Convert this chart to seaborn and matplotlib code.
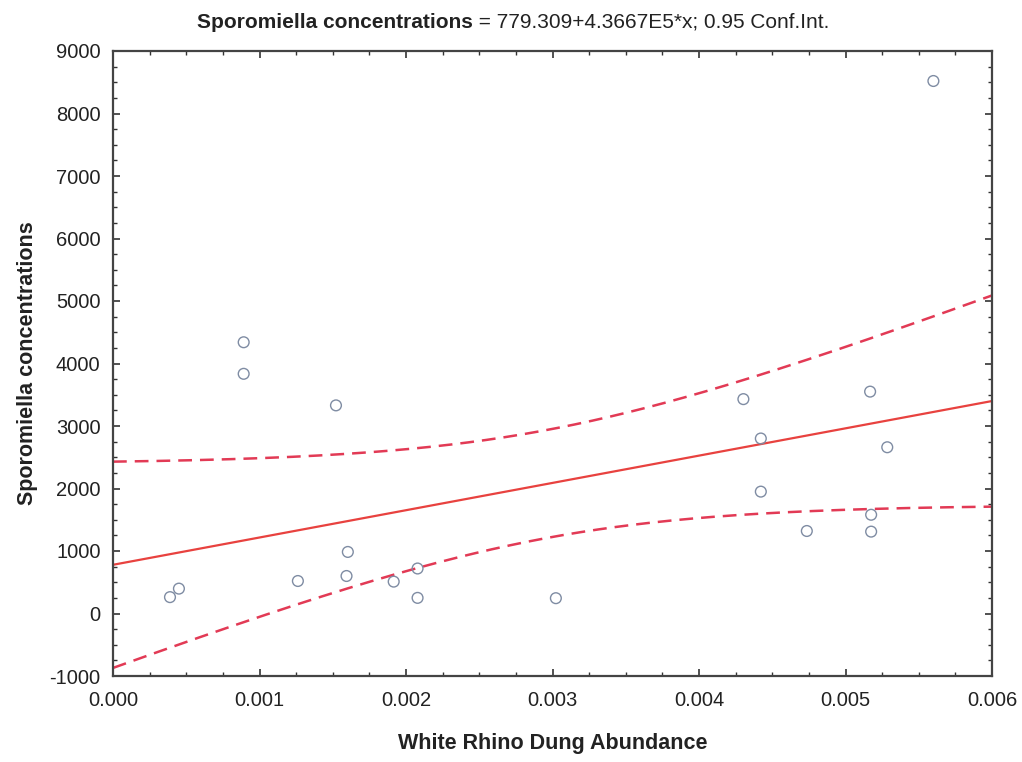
import numpy as np
import pandas as pd
import matplotlib
matplotlib.use("Agg")
import matplotlib.pyplot as plt
import seaborn as sns
from matplotlib.ticker import MultipleLocator, FixedLocator, FixedFormatter

# ---- data ----
dung_abundance = [0.000389, 0.000450, 0.000892, 0.000892, 0.001262, 0.001522,
                  0.001594, 0.001603, 0.001916, 0.002079, 0.002079, 0.003023,
                  0.004303, 0.004422, 0.004422, 0.004736, 0.005168, 0.005175,
                  0.005175, 0.005285, 0.005600]
sporomiella = [262, 398, 4340, 3835, 520, 3330,
               600, 985, 510, 720, 250, 245,
               3430, 2800, 1950, 1320, 3550, 1580,
               1310, 2660, 8520]

intercept = 779.309
slope = 4.3667e5
t_crit = 2.093          # Student t(0.975, df = 19)

x_ticks = [0.000, 0.001, 0.002, 0.003, 0.004, 0.005, 0.006]
x_tick_labels = ["0.000", "0.001", "0.002", "0.003", "0.004", "0.005", "0.006"]
y_ticks = [-1000, 0, 1000, 2000, 3000, 4000, 5000, 6000, 7000, 8000, 9000]
y_tick_labels = ["-1000", "0", "1000", "2000", "3000", "4000", "5000",
                 "6000", "7000", "8000", "9000"]

title_bold = "Sporomiella concentrations"
title_rest = " = 779.309+4.3667E5*x; 0.95 Conf.Int."
x_label = "White Rhino Dung Abundance"
y_label = "Sporomiella concentrations"

# ---- style ----
sns.set_theme(style="ticks")
plt.rcParams['font.family'] = ['Liberation Sans', 'DejaVu Sans']

fig = plt.figure(figsize=(10.22, 7.62), dpi=100)
fig.patch.set_facecolor("white")
ax = fig.add_axes([113 / 1022, 1 - 676 / 762, 879 / 1022, 625 / 762])

df = pd.DataFrame({"x": dung_abundance, "y": sporomiella})

# fitted line and 0.95 confidence band
x_arr = np.asarray(dung_abundance, dtype=float)
y_arr = np.asarray(sporomiella, dtype=float)
n = len(x_arr)
resid = y_arr - (intercept + slope * x_arr)
s = np.sqrt(np.sum(resid ** 2) / (n - 2))
xbar = x_arr.mean()
sxx = np.sum((x_arr - xbar) ** 2)
xs = np.linspace(x_ticks[0], x_ticks[-1], 300)
yhat = intercept + slope * xs
half = t_crit * s * np.sqrt(1.0 / n + (xs - xbar) ** 2 / sxx)

line_df = pd.DataFrame({"x": xs, "fit": yhat, "lo": yhat - half, "hi": yhat + half})

sns.lineplot(data=line_df, x="x", y="fit", ax=ax, color="#e8423f", linewidth=1.6)
sns.lineplot(data=line_df, x="x", y="hi", ax=ax, color="#e23a55", linewidth=1.8,
             dashes=False, linestyle=(0, (5.5, 3.2)))
sns.lineplot(data=line_df, x="x", y="lo", ax=ax, color="#e23a55", linewidth=1.8,
             dashes=False, linestyle=(0, (5.5, 3.2)))

sns.scatterplot(data=df, x="x", y="y", ax=ax, marker="o", s=60,
                facecolors="none", edgecolors="#7f8ca3", linewidth=1.0, zorder=5)

ax.set_xlim(x_ticks[0], x_ticks[-1])
ax.set_ylim(y_ticks[0], y_ticks[-1])
ax.xaxis.set_major_locator(FixedLocator(x_ticks))
ax.xaxis.set_major_formatter(FixedFormatter(x_tick_labels))
ax.yaxis.set_major_locator(FixedLocator(y_ticks))
ax.yaxis.set_major_formatter(FixedFormatter(y_tick_labels))
ax.xaxis.set_minor_locator(MultipleLocator(0.00025))
ax.yaxis.set_minor_locator(MultipleLocator(250))

ax.tick_params(which="both", direction="in", top=True, right=True,
               colors="#333333", labelcolor="#222222")
ax.tick_params(which="major", length=5, width=1.2, labelsize=14.5)
ax.tick_params(axis="x", which="major", pad=11)
ax.tick_params(axis="y", which="major", pad=9)
ax.tick_params(which="minor", length=3, width=1.0)
for sp in ax.spines.values():
    sp.set_color("#444444")
    sp.set_linewidth(1.6)
    sp.set_visible(True)

ax.set_xlabel(x_label, fontsize=15.5, fontweight="bold", color="#222222", labelpad=16)
ax.set_ylabel(y_label, fontsize=15.5, fontweight="bold", color="#222222", labelpad=8)
ax.grid(False)

# two-part title (bold + regular), centred
fig.canvas.draw()
renderer = fig.canvas.get_renderer()
tb = fig.text(0, 0, title_bold, fontsize=15, fontweight="bold", color="#222222")
tr = fig.text(0, 0, title_rest, fontsize=15, color="#222222")
wb = tb.get_window_extent(renderer).width
wr = tr.get_window_extent(renderer).width
total = wb + wr
cx = 513
x0 = cx - total / 2
ty = 1 - 28 / 762
tb.set_position((x0 / 1022, ty))
tr.set_position(((x0 + wb) / 1022, ty))

fig.savefig("out.png", dpi=100, facecolor="white")
